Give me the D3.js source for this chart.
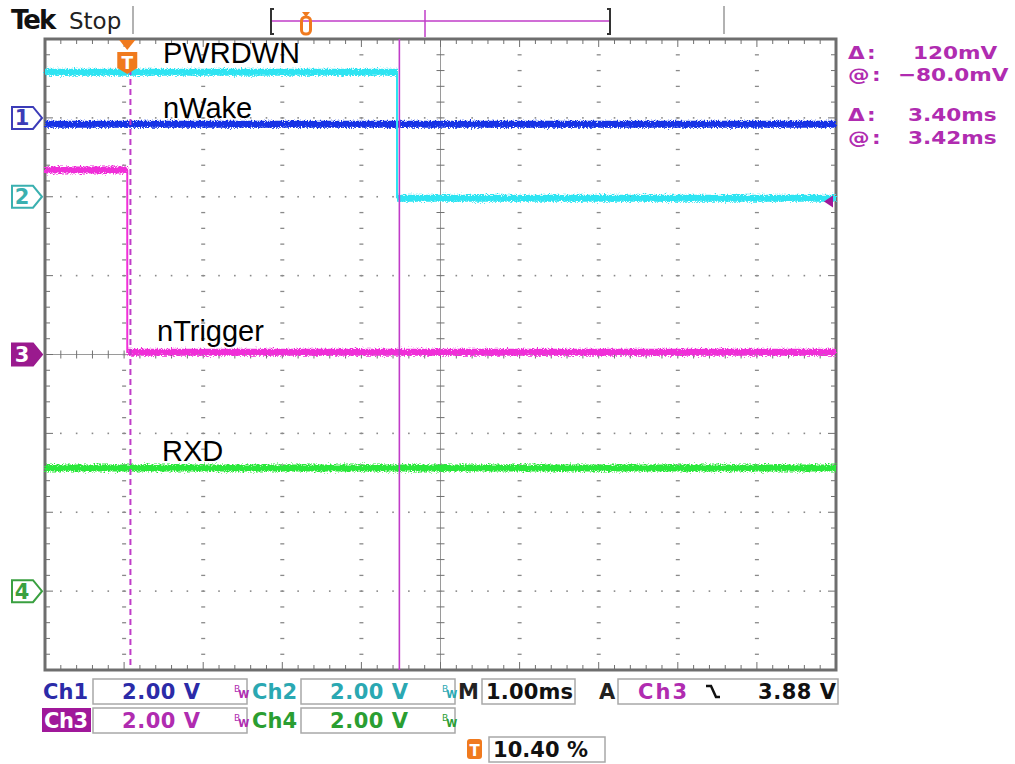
<!DOCTYPE html>
<html>
<head>
<meta charset="utf-8">
<script src="https://cdn.jsdelivr.net/npm/d3@7"></script>
<style>
  body { margin: 0; background: #fff; }
  svg { display: block; }
  .lbl { font-family: "Liberation Sans", Arial, sans-serif; font-size: 29px; fill: #000; }
  .tek { font-family: "DejaVu Sans", sans-serif; }
</style>
</head>
<body>
<svg id="scope" width="1015" height="764"></svg>
<script>
// time axis, ms relative to trigger (1.00 ms/div, trigger at 10.40 %)
const timeDomain = [-1.04, 8.96];
const channels = ["Ch1", "Ch2", "Ch3", "Ch4"];
const channelOffsets = [3, 2, 0, -3];       // ground marker, divisions from centre
const voltsPerDiv = [2, 2, 2, 2];

// each trace: step times (ms) and the level held after each step (V)
const nWakeTimes = [-1.04, 8.96];
const nWakeLevels = [-0.16];
const pwrdwnTimes = [-1.04, 3.41, 8.96];
const pwrdwnLevels = [3.16, -0.04];
const nTriggerTimes = [-1.04, 0.0, 8.96];
const nTriggerLevels = [4.68, 0.06];
const rxdTimes = [-1.04, 8.96];
const rxdLevels = [3.12];

const cursorTimes = [0.04, 3.44];
const triggerLevel = 3.88;   // on Ch3

const readoutRows = [
  ["Δ:", "120mV"], ["@:", "\u221280.0mV"], ["Δ:", "3.40ms"], ["@:", "3.42ms"]
];
const scaleLabels = ["2.00 V", "2.00 V", "2.00 V", "2.00 V"];
const timebaseLabel = "1.00ms";
const triggerLabel = "3.88 V";
const triggerPosLabel = "10.40 %";

const colors = {
  trace: ["#1430e6", "#2ee4f2", "#f02ed8", "#2ce83a"],
  text: ["#2b2ba8", "#2aa8b2", "#b02cb0", "#2a9e32"],
  cursor: "#c03cc8",
  orange: "#f07a1e",
  frame: "#6e6e6e"
};

const svg = d3.select("#scope");
const plot = { left: 45, right: 836, top: 39, bottom: 670 };

const x = d3.scaleLinear().domain(timeDomain).range([plot.left, plot.right]);
const xDiv = d3.scaleLinear().domain([0, 10]).range([plot.left, plot.right]);
const yDiv = d3.scaleLinear().domain([-4, 4]).range([plot.bottom, plot.top]);
const yVolt = (ch, v) => yDiv(channelOffsets[ch] + v / voltsPerDiv[ch]);

const defs = svg.append("defs");
const f = defs.append("filter").attr("id", "noise")
  .attr("filterUnits", "userSpaceOnUse")
  .attr("x", 0).attr("y", 0).attr("width", 1015).attr("height", 764);
f.append("feTurbulence").attr("type", "fractalNoise")
  .attr("baseFrequency", "0.7 0.9").attr("numOctaves", 2).attr("seed", 4).attr("result", "t");
f.append("feDisplacementMap").attr("in", "SourceGraphic").attr("in2", "t")
  .attr("scale", 6).attr("xChannelSelector", "R").attr("yChannelSelector", "G");

// ---- graticule
const grid = svg.append("g");
const minorX = d3.range(0, 50 + 1).map(i => i / 5);
const minorY = d3.range(-20, 20 + 1).map(i => i / 5);

// dotted division lines
[1, 2, 3, 4, 6, 7, 8, 9].forEach(k => {
  grid.selectAll(null).data(minorY.slice(1, -1)).join("rect")
    .attr("x", xDiv(k) - 2).attr("y", d => yDiv(d) - 0.6)
    .attr("width", 4).attr("height", 1.3).attr("fill", "#8a8a8a");
});
[-3, -2, -1, 1, 2, 3].forEach(k => {
  grid.selectAll(null).data(minorX.slice(1, -1)).join("rect")
    .attr("x", d => xDiv(d) - 0.8).attr("y", yDiv(k) - 0.8)
    .attr("width", 1.6).attr("height", 1.6).attr("fill", "#8a8a8a");
});

// centre crosshair
grid.append("line").attr("x1", xDiv(5)).attr("x2", xDiv(5))
  .attr("y1", plot.top).attr("y2", plot.bottom).attr("stroke", "#9a9a9a").attr("stroke-width", 1);
grid.append("line").attr("x1", plot.left).attr("x2", plot.right)
  .attr("y1", yDiv(0)).attr("y2", yDiv(0)).attr("stroke", "#9a9a9a").attr("stroke-width", 1);
grid.selectAll(null).data(minorY).join("line")
  .attr("x1", xDiv(5) - 4).attr("x2", xDiv(5) + 4)
  .attr("y1", d => yDiv(d)).attr("y2", d => yDiv(d)).attr("stroke", "#707070");
grid.selectAll(null).data(minorX).join("line")
  .attr("y1", yDiv(0) - 4).attr("y2", yDiv(0) + 4)
  .attr("x1", d => xDiv(d)).attr("x2", d => xDiv(d)).attr("stroke", "#707070");

// edge ticks
const tickLen = d => (Math.abs(d - Math.round(d)) < 1e-6 ? 8 : 5);
grid.selectAll(null).data(minorX).join("line")
  .attr("x1", d => xDiv(d)).attr("x2", d => xDiv(d))
  .attr("y1", plot.top).attr("y2", d => plot.top + tickLen(d)).attr("stroke", "#707070");
grid.selectAll(null).data(minorX).join("line")
  .attr("x1", d => xDiv(d)).attr("x2", d => xDiv(d))
  .attr("y1", plot.bottom).attr("y2", d => plot.bottom - tickLen(d)).attr("stroke", "#707070");
grid.selectAll(null).data(minorY).join("line")
  .attr("y1", d => yDiv(d)).attr("y2", d => yDiv(d))
  .attr("x1", plot.left).attr("x2", d => plot.left + tickLen(d)).attr("stroke", "#707070");
grid.selectAll(null).data(minorY).join("line")
  .attr("y1", d => yDiv(d)).attr("y2", d => yDiv(d))
  .attr("x1", plot.right).attr("x2", d => plot.right - tickLen(d)).attr("stroke", "#707070");

grid.append("rect").attr("x", plot.left).attr("y", plot.top)
  .attr("width", plot.right - plot.left).attr("height", plot.bottom - plot.top)
  .attr("fill", "none").attr("stroke", colors.frame).attr("stroke-width", 3);

// ---- traces
const traces = [
  { ch: 0, times: nWakeTimes, levels: nWakeLevels },
  { ch: 1, times: pwrdwnTimes, levels: pwrdwnLevels },
  { ch: 2, times: nTriggerTimes, levels: nTriggerLevels },
  { ch: 3, times: rxdTimes, levels: rxdLevels }
];
const tr = svg.append("g");
traces.forEach(t => {
  const segs = t.levels.map((v, i) => ({ t0: t.times[i], t1: t.times[i + 1], v }));
  tr.append("g").attr("filter", "url(#noise)").selectAll("line").data(segs).join("line")
    .attr("x1", d => x(d.t0)).attr("x2", d => x(d.t1))
    .attr("y1", d => yVolt(t.ch, d.v)).attr("y2", d => yVolt(t.ch, d.v))
    .attr("stroke", colors.trace[t.ch]).attr("stroke-width", 7);
  const edges = segs.slice(1).map((d, i) => ({ t: d.t0, a: segs[i].v, b: d.v }));
  tr.selectAll(null).data(edges).join("line")
    .attr("x1", d => x(d.t)).attr("x2", d => x(d.t))
    .attr("y1", d => yVolt(t.ch, d.a)).attr("y2", d => yVolt(t.ch, d.b))
    .attr("stroke", colors.trace[t.ch]).attr("stroke-width", 2);
});

// ---- cursors
svg.append("line").attr("x1", x(cursorTimes[0])).attr("x2", x(cursorTimes[0]))
  .attr("y1", plot.top + 30).attr("y2", plot.bottom - 2)
  .attr("stroke", colors.cursor).attr("stroke-width", 2).attr("stroke-dasharray", "6 4");
svg.append("line").attr("x1", x(cursorTimes[1])).attr("x2", x(cursorTimes[1]))
  .attr("y1", plot.top).attr("y2", plot.bottom)
  .attr("stroke", colors.cursor).attr("stroke-width", 1.6);

// ---- signal names
const names = [
  { text: "PWRDWN", x: 163, y: 63 },
  { text: "nWake", x: 163, y: 118 },
  { text: "nTrigger", x: 157, y: 341 },
  { text: "RXD", x: 162, y: 461 }
];
svg.selectAll("text.lbl").data(names).join("text").attr("class", "lbl")
  .attr("x", d => d.x).attr("y", d => d.y).text(d => d.text);

// ---- trigger position marker
const tx = x(0);
const tg = svg.append("g");
tg.append("path").attr("d", `M${tx - 8},${plot.top + 1} L${tx + 8},${plot.top + 1} L${tx},${plot.top + 11} Z`)
  .attr("fill", colors.orange);
tg.append("path")
  .attr("d", `M${tx - 10},${plot.top + 13} h20 v16 l-10,6 l-10,-6 Z`).attr("fill", colors.orange);
tg.append("text").attr("x", tx).attr("y", plot.top + 30).attr("text-anchor", "middle")
  .attr("class", "tek").attr("font-size", 17).attr("font-weight", "bold").attr("fill", "#fff").text("T");

// trigger level marker (right edge)
const ty = yVolt(2, triggerLevel);
svg.append("path").attr("d", `M${plot.right - 12},${ty} l9,-6 v12 Z`).attr("fill", "#a0189a");

// ---- channel ground markers
const mk = svg.append("g");
channels.forEach((c, i) => {
  const y0 = yDiv(channelOffsets[i]);
  const filled = i === 2;
  const col = ["#3c3cb8", "#3ab0b0", "#9a1a8e", "#3aa040"][i];
  mk.append("path").attr("d", `M12,${y0 - 11} h21 l9,11 l-9,11 h-21 Z`)
    .attr("fill", filled ? col : "#fff").attr("stroke", col).attr("stroke-width", 2);
  mk.append("text").attr("class", "tek").attr("x", 22).attr("y", y0 + 7.5)
    .attr("text-anchor", "middle").attr("font-size", 21).attr("font-weight", "bold")
    .attr("fill", filled ? "#fff" : col).text(i + 1);
});

// ---- top status bar
const topBar = svg.append("g");
topBar.append("text").attr("class", "tek").attr("x", 11).attr("y", 29).attr("font-size", 26)
  .attr("font-weight", "bold").attr("letter-spacing", -2).attr("fill", "#111").text("Tek");
topBar.append("text").attr("class", "tek").attr("x", 69).attr("y", 29).attr("font-size", 23)
  .attr("fill", "#222").text("Stop");
[133, 724].forEach(sx => topBar.append("line").attr("x1", sx).attr("x2", sx).attr("y1", 6).attr("y2", 34)
  .attr("stroke", "#999").attr("stroke-width", 1.5));
topBar.append("line").attr("x1", 272).attr("x2", 609).attr("y1", 21).attr("y2", 21)
  .attr("stroke", colors.cursor).attr("stroke-width", 1.5);
topBar.append("line").attr("x1", 425).attr("x2", 425).attr("y1", 10).attr("y2", 37)
  .attr("stroke", colors.cursor).attr("stroke-width", 1.5);
topBar.append("path").attr("d", "M274,9 h-3 v25 h3").attr("fill", "none").attr("stroke", "#333").attr("stroke-width", 2);
topBar.append("path").attr("d", "M607,9 h3 v25 h-3").attr("fill", "none").attr("stroke", "#333").attr("stroke-width", 2);
topBar.append("path").attr("d", "M302,12 h8 l-4,5 Z").attr("fill", colors.orange);
topBar.append("rect").attr("x", 301.5).attr("y", 17).attr("width", 9).attr("height", 17).attr("rx", 4)
  .attr("fill", "none").attr("stroke", colors.orange).attr("stroke-width", 3);

// ---- cursor readouts (glyphs stretched wide like the scope font)
const rdY = [59, 81, 121, 144];
const rdX = [913, 898, 908, 908];
readoutRows.forEach((r, i) => {
  svg.append("text").attr("class", "tek").attr("transform", `translate(848,${rdY[i]}) scale(1.2,1)`)
    .attr("font-size", 18).attr("font-weight", "bold").attr("fill", colors.text[2])
    .attr("letter-spacing", 2).text(r[0]);
  svg.append("text").attr("class", "tek").attr("transform", `translate(${rdX[i]},${rdY[i]}) scale(1.2,1)`)
    .attr("font-size", 18).attr("font-weight", "bold").attr("fill", colors.text[2]).text(r[1]);
});

// ---- bottom readouts
const bot = svg.append("g");
function box(x0, y0, x1, y1) {
  bot.append("rect").attr("x", x0).attr("y", y0).attr("width", x1 - x0).attr("height", y1 - y0)
    .attr("fill", "#fff").attr("stroke", "#a8a8a8").attr("stroke-width", 1.5);
}
function txt(s, x0, y0, len, col, opts = {}) {
  return bot.append("text").attr("class", "tek").attr("x", x0).attr("y", y0)
    .attr("font-size", opts.size || 21).attr("font-weight", opts.weight || "bold")
    .attr("fill", col).attr("textLength", len).attr("lengthAdjust", "spacing").text(s);
}
function bw(x0, y0, col) {
  const t = bot.append("text").attr("class", "tek").attr("x", x0).attr("y", y0 - 5)
    .attr("font-size", 9).attr("fill", col);
  t.append("tspan").text("B");
  t.append("tspan").attr("dx", -2).attr("dy", 6).attr("font-size", 10).attr("font-weight", "bold").text("W");
}
const rowY = [679, 708];
const colX = [[93, 247], [301, 455]];
channels.forEach((c, i) => {
  const r = i === 0 || i === 2 ? 0 : 1;   // column
  const row = i < 2 ? 0 : 1;
  const y0 = rowY[row], y1 = y0 + 25;
  const lx = r === 0 ? 43 : 252;
  if (i === 2) {
    bot.append("rect").attr("x", 42).attr("y", y0).attr("width", 49).attr("height", 24).attr("fill", "#a0189a");
    txt(c, lx + 1, y0 + 20, 44, "#fff");
  } else {
    txt(c, lx, y0 + 20, 45, colors.text[i]);
  }
  box(colX[r][0], y0, colX[r][1], y1);
  txt(scaleLabels[i], colX[r][0] + 29, y0 + 20, 78, colors.text[i]);
  bw(colX[r][1] - 13, y0 + 18, colors.text[i === 0 ? 2 : i]);
});
txt("M", 458, rowY[0] + 20, 20, "#222");
box(482, rowY[0], 575, rowY[0] + 25);
txt(timebaseLabel, 486, rowY[0] + 20, 87, "#111");
txt("A", 599, rowY[0] + 20, 17, "#222");
box(618, rowY[0], 838, rowY[0] + 25);
txt(channels[2], 638, rowY[0] + 20, 49, colors.text[2]);
bot.append("path").attr("d", `M706,${rowY[0] + 7} h5 l5,11 h4`).attr("fill", "none")
  .attr("stroke", "#111").attr("stroke-width", 2.5);
txt(triggerLabel, 758, rowY[0] + 20, 78, "#111");

bot.append("rect").attr("x", 467).attr("y", 739).attr("width", 15).attr("height", 20).attr("rx", 3).attr("fill", colors.orange);
bot.append("text").attr("class", "tek").attr("x", 474.5).attr("y", 756).attr("text-anchor", "middle")
  .attr("font-size", 15).attr("font-weight", "bold").attr("fill", "#fff").text("T");
box(489, 737, 605, 762);
txt(triggerPosLabel, 493, 757, 95, "#111");
</script>
</body>
</html>
